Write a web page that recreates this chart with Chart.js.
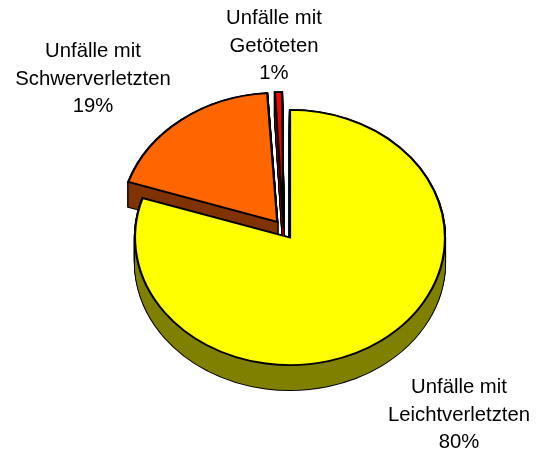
<!DOCTYPE html>
<html>
<head>
<meta charset="utf-8">
<title>Unfälle</title>
<script src="https://cdn.jsdelivr.net/npm/chart.js@4"></script>
<style>
    html, body { margin: 0; padding: 0; background: #fff; }
    canvas { display: block; }
</style>
</head>
<body>
<canvas id="myChart" width="537" height="452"></canvas>
<script>
const categorias = ['Unfälle mit Leichtverletzten', 'Unfälle mit Schwerverletzten', 'Unfälle mit Getöteten'];
const valores = [80, 19, 1];
const coresTopo = ['#FFFF00', '#FF6600', '#FF0000'];
const coresLado = ['#808000', '#803300', '#800000'];
const explosao = [0, 96, 45];
const ajusteX = [0, 2, -6]; // a perspectiva do original empurra as fatias para os lados
const rotulosXY = [[459, 393], [93, 57], [274, 24]];

const achatamento = 0.823;
const profundidade = 25;

// desenha as fatias achatadas e com lateral, o Chart.js so faz circulos
const pizza3d = {
    id: 'pizza3d',
    beforeDatasetsDraw(chart) {
        const ctx = chart.ctx;
        const arcos = chart.getDatasetMeta(0).data;
        const ordem = [2, 1, 0]; // amarelo por cima

        const desenhar = (i, desloc, extras) => {
            const arco = arcos[i];
            const original = arco.options;
            arco.options = Object.assign({}, original, extras);
            ctx.save();
            ctx.translate(arco.x + ajusteX[i], arco.y + desloc);
            ctx.scale(1, achatamento);
            ctx.translate(-arco.x, -arco.y);
            arco.draw(ctx);
            ctx.restore();
            arco.options = original;
        };

        ordem.forEach((i) => {
            for (let d = profundidade; d >= 0; d--) {
                desenhar(i, d, { backgroundColor: '#000000', borderColor: '#000000' });
            }
            for (let d = profundidade; d >= 0; d--) {
                desenhar(i, d, { backgroundColor: coresLado[i], borderWidth: 0 });
            }
            desenhar(i, 0, {});
        });
        return false;
    },
    afterDraw(chart) {
        const ctx = chart.ctx;
        ctx.save();
        ctx.fillStyle = '#000000';
        ctx.font = '20.3px "Liberation Sans"';
        ctx.textAlign = 'center';
        ctx.textBaseline = 'alphabetic';
        categorias.forEach((nome, i) => {
            const linhas = [nome.slice(0, 11), nome.slice(12), valores[i] + '%'];
            linhas.forEach((linha, n) => {
                ctx.fillText(linha, rotulosXY[i][0], rotulosXY[i][1] + n * 27.5);
            });
        });
        ctx.restore();
    }
};

const ctx = document.getElementById('myChart');
new Chart(ctx, {
    type: 'pie',
    data: {
        labels: categorias,
        datasets: [{
            data: valores,
            backgroundColor: coresTopo,
            borderColor: '#000000',
            borderWidth: 2.2,
            borderJoinStyle: 'miter',
            offset: explosao
        }]
    },
    options: {
        responsive: false,
        animation: false,
        radius: 155,
        layout: { padding: { left: 43, top: 23 } },
        plugins: { legend: { display: false }, tooltip: { enabled: false } }
    },
    plugins: [pizza3d]
});
</script>
</body>
</html>
